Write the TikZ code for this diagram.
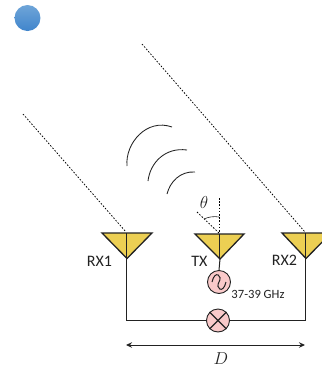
\documentclass[tikz,border=0pt]{standalone}
\usepackage{fontspec}
\setmainfont{Carlito}
\usetikzlibrary{arrows.meta}
\definecolor{ant}{HTML}{ECCF53}
\definecolor{pk}{HTML}{F9C9C9}
\definecolor{ln}{HTML}{222222}
\definecolor{bluetop}{HTML}{6FA5D8}
\definecolor{bluebot}{HTML}{4085CC}
\tikzset{
 antenna/.style={draw=ln,line width=1.3pt,fill=ant,line join=miter},
 wire/.style={draw=ln,line width=1pt},
 ray/.style={draw=black,line width=0.75pt,dash pattern=on 1.6pt off 1.6pt},
 wave/.style={draw=ln,line width=0.85pt},
 comp/.style={circle,draw=ln,line width=0.9pt,fill=pk,minimum size=23pt,inner sep=0pt},
 lab/.style={inner sep=0pt,text=ln},
}
\begin{document}
\begin{tikzpicture}[x=1pt,y=-1pt]
\useasboundingbox (0,0) rectangle (322,368);
\clip (0,0) rectangle (322,368);
\shade[top color=bluetop,bottom color=bluebot,draw=none] (27.5,18) circle (13);
% rays
\coordinate (r1a) at (23,114); \coordinate (r1b) at (126,232);
\coordinate (r2a) at (142,44); \coordinate (r2b) at (305,232);
\draw[ray] (r1a) -- (r1b);
\draw[ray] (r2a) -- (r2b);
% waves
\draw[wave] (127,166) .. controls (125,143) and (147,118) .. (172,127);
\draw[wave] (148,181) .. controls (150,163) and (165,147) .. (187,150);
\draw[wave] (167,194) .. controls (170,182) and (180,171) .. (195,172);
% angle
\coordinate (tip) at (219,233);
\coordinate (va) at (219,198);
\coordinate (vb) at (197,212);
\draw[ray] (va) -- (tip);
\draw[ray] (vb) -- (tip);
\draw[wave,line width=0.6pt] (204,219) .. controls (208,217) and (214,216) .. (219,217);
\node[lab,font=\fontsize{16}{16}\selectfont] (th) at (204,202) {$\theta$};
% wires
\node[comp] (osc) at (219,282) {};
\node[comp] (mix) at (218,320.5) {};
\coordinate (a1) at (127,258.5);
\coordinate (a2) at (220,259);
\coordinate (a3) at (306,258.5);
\coordinate (c1) at (127,320.5);
\coordinate (c3) at (306,320.5);
\draw[wire] (a1) -- (c1) -- (mix.west);
\draw[wire] (a3) -- (c3) -- (mix.east);
\draw[wire] (a2) -- (osc.north);
% antennas
\draw[antenna] (102,233) -- (152,233) -- (a1) -- cycle;
\draw[wire] (127,233) -- (a1);
\draw[antenna] (195,234) -- (244,234) -- (a2) -- cycle;
\draw[wire] (220,234) -- (a2);
\draw[antenna] (282,233) -- (331,233) -- (a3) -- cycle;
\draw[wire] (306,233) -- (a3);
% symbols
\draw[wave,line width=1pt] ([xshift=-7pt]osc.center) .. controls +(3,-13) and +(4,-6) .. (osc.center) .. controls +(-4,6) and +(-3,13) .. ([xshift=7pt]osc.center);
\draw[wave,line width=1.1pt] (mix.45) -- (mix.225) (mix.135) -- (mix.315);
% labels
\node[lab,font=\fontsize{16}{16}\selectfont] (l1) at (99.5,261.5) {RX1};
\node[lab,font=\fontsize{16}{16}\selectfont] (l2) at (199.5,261.5) {TX};
\node[lab,font=\fontsize{16}{16}\selectfont] (l3) at (284.5,260) {RX2};
\node[lab,font=\fontsize{12.6}{12.6}\selectfont] (l4) at (258,294) {37-39 GHz};
% dimension
\coordinate (d1) at (126,345);
\coordinate (d2) at (305,345);
\draw[wire,{Stealth[length=6pt,width=5.5pt]}-{Stealth[length=6pt,width=5.5pt]}] (d1) -- (d2);
\node[lab,font=\fontsize{16}{16}\selectfont] (dl) at (221,358.5) {$D$};
\end{tikzpicture}
\end{document}
